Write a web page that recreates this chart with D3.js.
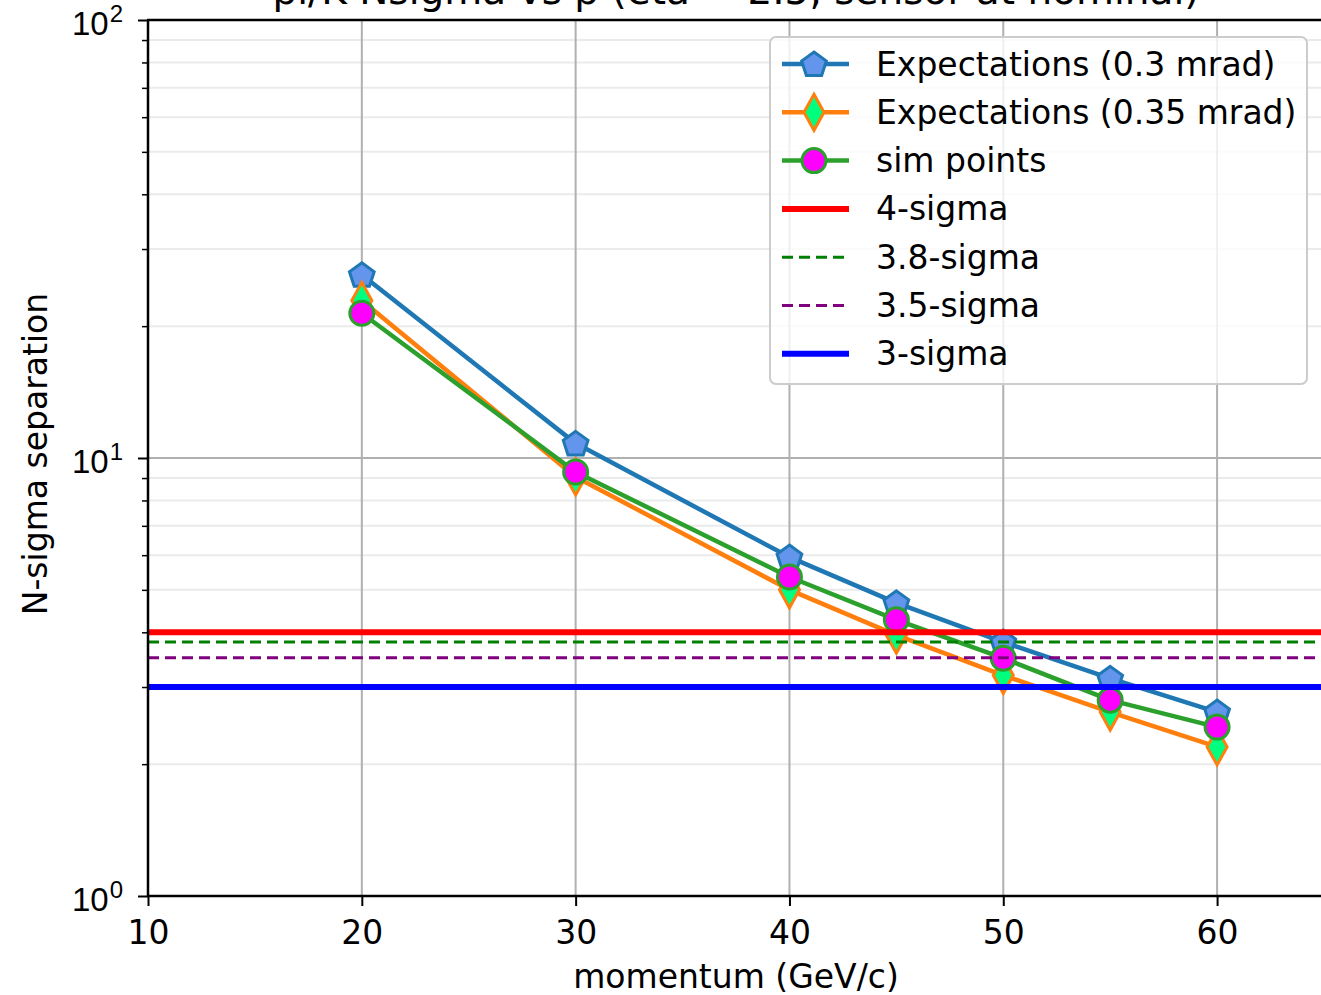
<!DOCTYPE html>
<html>
<head>
<meta charset="utf-8">
<script src="https://cdn.jsdelivr.net/npm/d3@7"></script>
<style>
  body { margin: 0; background: #fff; }
  svg { display: block; font-family: "DejaVu Sans", sans-serif; }
</style>
</head>
<body>
<svg id="chart" width="1321" height="995"></svg>
<script>
// momentum points (GeV/c)
const momentum = [20, 30, 40, 45, 50, 55, 60];
// N-sigma separation
const expect03 = [26.2, 10.8, 5.94, 4.67, 3.8, 3.14, 2.63];
const expect035 = [22.9, 9.05, 5.0, 3.94, 3.19, 2.63, 2.19];
const simPoints = [21.4, 9.29, 5.35, 4.27, 3.49, 2.8, 2.43];
// threshold lines
const thresholds = [
  { label: "4-sigma", value: 4, color: "#ff0000", dash: null, width: 6 },
  { label: "3.8-sigma", value: 3.8, color: "#008000", dash: "11,6", width: 3 },
  { label: "3.5-sigma", value: 3.5, color: "#800080", dash: "11,6", width: 3 },
  { label: "3-sigma", value: 3, color: "#0000ff", dash: null, width: 6 },
];
const xTicks = [10, 20, 30, 40, 50, 60];
const yDecades = [0, 1, 2];

const svg = d3.select("#chart");
const plotLeft = 148,
  plotRight = 1324,
  plotTop = 20,
  plotBottom = 896;
const fontSize = 33;

const x = d3.scaleLinear().domain([10, 65]).range([plotLeft, plotRight]);
const y = d3.scaleLog().domain([1, 100]).range([plotBottom, plotTop]);

const series = [
  {
    label: "Expectations (0.3 mrad)",
    values: expect03,
    line: "#1f77b4",
    fill: "#6495ed",
    symbol: "pentagon",
  },
  {
    label: "Expectations (0.35 mrad)",
    values: expect035,
    line: "#ff7f0e",
    fill: "#00ff7f",
    symbol: "diamond",
  },
  {
    label: "sim points",
    values: simPoints,
    line: "#2ca02c",
    fill: "#ff00ff",
    symbol: "circle",
  },
];

function markerPath(symbol) {
  if (symbol === "pentagon") {
    const r = 13;
    const pts = d3.range(5).map((i) => {
      const a = -Math.PI / 2 + (i * 2 * Math.PI) / 5;
      return [r * Math.cos(a), r * Math.sin(a) + 1];
    });
    return "M" + pts.map((p) => p.join(",")).join("L") + "Z";
  }
  if (symbol === "diamond") {
    return "M0,-18L10,0L0,18L-10,0Z";
  }
  const r = 12;
  return `M${-r},0A${r},${r} 0 1,0 ${r},0A${r},${r} 0 1,0 ${-r},0Z`;
}

svg
  .append("clipPath")
  .attr("id", "plot-clip")
  .append("rect")
  .attr("x", plotLeft)
  .attr("y", plotTop)
  .attr("width", plotRight - plotLeft)
  .attr("height", plotBottom - plotTop);

// minor grid for y
const minorVals = [];
yDecades.slice(0, 2).forEach((d) => {
  for (let m = 2; m <= 9; m++) minorVals.push(m * Math.pow(10, d));
});

const grid = svg.append("g");
grid
  .selectAll(".minor")
  .data(minorVals)
  .join("line")
  .attr("x1", plotLeft)
  .attr("x2", plotRight)
  .attr("y1", (d) => y(d))
  .attr("y2", (d) => y(d))
  .style("stroke", "#ebebeb")
  .style("stroke-width", 2);

grid
  .selectAll(".majorY")
  .data([10])
  .join("line")
  .attr("x1", plotLeft)
  .attr("x2", plotRight)
  .attr("y1", (d) => y(d))
  .attr("y2", (d) => y(d))
  .style("stroke", "#b0b0b0")
  .style("stroke-width", 2);

grid
  .selectAll(".majorX")
  .data(xTicks.slice(1))
  .join("line")
  .attr("x1", (d) => x(d))
  .attr("x2", (d) => x(d))
  .attr("y1", plotTop)
  .attr("y2", plotBottom)
  .style("stroke", "#b0b0b0")
  .style("stroke-width", 2);

// data series
const plot = svg.append("g").attr("clip-path", "url(#plot-clip)");
const line = d3
  .line()
  .x((d) => x(d[0]))
  .y((d) => y(d[1]));

series.forEach((s) => {
  const pts = momentum.map((m, i) => [m, s.values[i]]);
  plot
    .append("path")
    .attr("d", line(pts))
    .style("fill", "none")
    .style("stroke", s.line)
    .style("stroke-width", 4.5)
    .style("stroke-linejoin", "round");
  plot
    .selectAll(null)
    .data(pts)
    .join("path")
    .attr("transform", (d) => `translate(${x(d[0])},${y(d[1])})`)
    .attr("d", markerPath(s.symbol))
    .style("fill", s.fill)
    .style("stroke", s.line)
    .style("stroke-width", 3);
});

// threshold lines
plot
  .selectAll(".thr")
  .data(thresholds)
  .join("line")
  .attr("x1", plotLeft)
  .attr("x2", plotRight)
  .attr("y1", (d) => y(d.value))
  .attr("y2", (d) => y(d.value))
  .style("stroke", (d) => d.color)
  .style("stroke-width", (d) => d.width)
  .style("stroke-dasharray", (d) => d.dash);

// spines
const spine = svg.append("g").style("stroke", "#000").style("stroke-width", 2.5);
spine.append("line").attr("x1", plotLeft).attr("x2", plotLeft).attr("y1", plotTop).attr("y2", plotBottom);
spine.append("line").attr("x1", plotLeft - 1).attr("x2", plotRight).attr("y1", plotBottom).attr("y2", plotBottom);
spine.append("line").attr("x1", plotLeft - 1).attr("x2", plotRight).attr("y1", plotTop).attr("y2", plotTop);

// x axis
const xAxis = d3.axisBottom(x).tickValues(xTicks).tickSize(10).tickPadding(15);
const gx = svg.append("g").attr("transform", `translate(0,${plotBottom})`).call(xAxis);
gx.select(".domain").remove();
gx.selectAll(".tick line").style("stroke", "#000").style("stroke-width", 2);
gx.selectAll(".tick text")
  .style("font-size", fontSize + "px")
  .style("font-family", "DejaVu Sans")
  .style("fill", "#000");

// y axis with minor ticks
const yAxisMinor = d3.axisLeft(y).tickValues(minorVals).tickSize(6).tickFormat("");
const gyMinor = svg.append("g").attr("transform", `translate(${plotLeft},0)`).call(yAxisMinor);
gyMinor.select(".domain").remove();
gyMinor.selectAll(".tick line").style("stroke", "#000").style("stroke-width", 1.5);

const yAxis = d3
  .axisLeft(y)
  .tickValues(yDecades.map((d) => Math.pow(10, d)))
  .tickSize(10)
  .tickFormat("");
const gy = svg.append("g").attr("transform", `translate(${plotLeft},0)`).call(yAxis);
gy.select(".domain").remove();
gy.selectAll(".tick line").style("stroke", "#000").style("stroke-width", 2);
gy.selectAll(".tick")
  .append("text")
  .attr("x", -25)
  .attr("y", 14)
  .attr("text-anchor", "end")
  .style("font-size", fontSize + "px")
  .style("fill", "#000")
  .text("10")
  .append("tspan")
  .attr("dx", 1)
  .attr("dy", -13)
  .style("font-size", "24px")
  .text((d) => Math.round(Math.log10(d)));

// axis labels
svg
  .append("text")
  .attr("x", (plotLeft + plotRight) / 2)
  .attr("y", 988)
  .attr("text-anchor", "middle")
  .style("font-size", fontSize + "px")
  .text("momentum (GeV/c)");

svg
  .append("text")
  .attr("transform", `translate(47,${(plotTop + plotBottom) / 2 - 4}) rotate(-90)`)
  .attr("text-anchor", "middle")
  .style("font-size", fontSize + "px")
  .text("N-sigma separation");

// title (cut off at the top of the figure, as in the original)
svg
  .append("text")
  .attr("x", (plotLeft + plotRight) / 2)
  .attr("y", 4)
  .attr("text-anchor", "middle")
  .style("font-size", "39px")
  .text("pi/K Nsigma vs p (eta = 2.5, sensor at nominal)");

// legend
const legend = svg.append("g").attr("transform", "translate(770,37)");
legend
  .append("rect")
  .attr("width", 537)
  .attr("height", 347)
  .attr("rx", 6)
  .style("fill", "#fff")
  .style("fill-opacity", 0.8)
  .style("stroke", "#cccccc")
  .style("stroke-width", 2);

const entries = series
  .map((s) => ({ label: s.label, color: s.line, width: 4.5, dash: null, s }))
  .concat(thresholds.map((t) => ({ label: t.label, color: t.color, width: t.width, dash: t.dash })));
const rowH = 48.3;
const rows = legend
  .selectAll(".row")
  .data(entries)
  .join("g")
  .attr("transform", (d, i) => `translate(0,${27 + i * rowH})`);

rows
  .append("line")
  .attr("x1", 12)
  .attr("x2", 79)
  .style("stroke", (d) => d.color)
  .style("stroke-width", (d) => d.width)
  .style("stroke-dasharray", (d) => d.dash);

rows
  .filter((d) => d.s)
  .append("path")
  .attr("transform", "translate(44,0)")
  .attr("d", (d) => markerPath(d.s.symbol))
  .style("fill", (d) => d.s.fill)
  .style("stroke", (d) => d.s.line)
  .style("stroke-width", 3);

rows
  .append("text")
  .attr("x", 106)
  .attr("dy", "0.35em")
  .style("font-size", fontSize + "px")
  .text((d) => d.label);
</script>
</body>
</html>
